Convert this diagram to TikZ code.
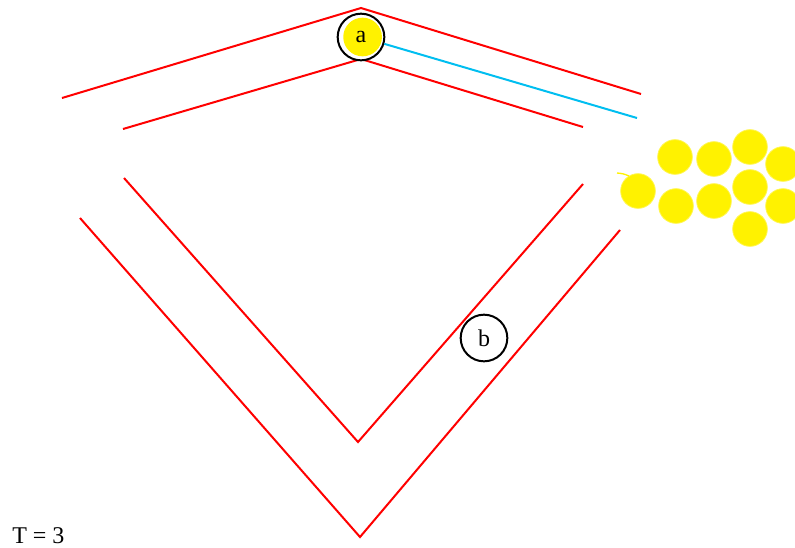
\documentclass[tikz,border=0pt]{standalone}
\usepackage{fontspec}
\setmainfont{Liberation Serif}
\usetikzlibrary{positioning}

\definecolor{rayblue}{RGB}{0,190,240}

\begin{document}
\begin{tikzpicture}[
        x=0.75pt,
        y=-0.75pt,
        wall/.style={
            draw=red,
            line width=1.5pt
        },
        ray/.style={
            draw=rayblue,
            line width=1.5pt
        },
        particle/.style={
            circle,
            fill=yellow,
            draw=yellow!70,
            line width=0.6pt,
            minimum size=26pt,
            inner sep=0pt
        },
        agent/.style={
            circle,
            draw=black,
            line width=1.5pt,
            minimum size=35pt,
            inner sep=0pt,
            fill=white,
            font=\fontsize{18}{20}\selectfont
        },
        glow/.style={
            path picture={
                \fill [yellow] ([xshift=1.2pt]path picture bounding box.center) circle (14.5pt);
            }
        }
    ]
        \useasboundingbox (0,0) rectangle (795,547);

        % Walls
        \draw [wall] (62,98) -- (361,8) -- (641,94);
        \draw [wall] (123,129) -- (361,59) -- (583,127);
        \draw [wall] (124,178) -- (358,442) -- (583,184);
        \draw [wall] (80,218) -- (360,537) -- (620,230);

        % Particles
        \foreach \px/\py [count=\i] in {638/191, 675/157, 676/206, 714/159, 714/201,
                                         750/147, 750/187, 750/229, 783/164, 783/206}
            \node [particle] (p\i) at (\px,\py) {};
        \draw [yellow, line width=1pt] (617,173) to[bend left=10] (629,176);

        % Nodes
        \node [agent, glow] (a) at (361,37) {a};
        \node [agent] (b) at (484,338) {b};
        \coordinate (rayend) at (637,118);

        % Edges
        \draw [ray] (a) -- (rayend);

        % Annotation
        \node [anchor=base west, inner sep=0pt, font=\fontsize{18}{20}\selectfont] (time) at (12,543) {T = 3};

    \end{tikzpicture}
\end{document}
